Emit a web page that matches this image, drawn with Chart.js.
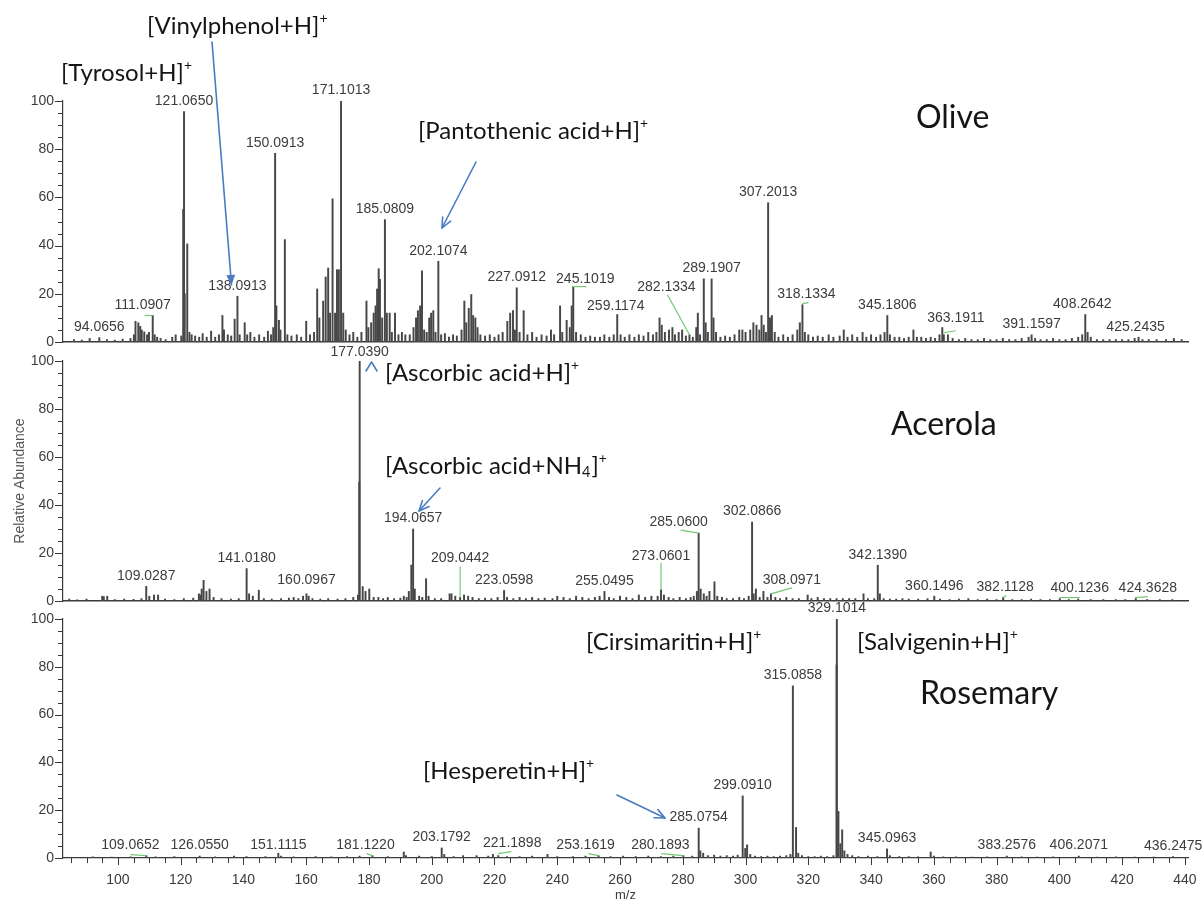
<!DOCTYPE html>
<html>
<head>
<meta charset="utf-8">
<script src="https://cdn.jsdelivr.net/npm/chart.js@4.4.1/dist/chart.umd.min.js"></script>
<style>
  html, body { margin: 0; padding: 0; background: #ffffff; }
  #wrap { position: relative; width: 1203px; height: 902px; overflow: hidden; }
  #wrap canvas { position: absolute; left: 0; top: 0; }
</style>
</head>
<body>
<div id="wrap">
  <canvas id="olive" width="1203" height="902"></canvas>
  <canvas id="acerola" width="1203" height="902"></canvas>
  <canvas id="rosemary" width="1203" height="902"></canvas>
</div>
<script>
// ---------- shared axes ----------
const mzMin = 82.5;
const mzMax = 441;
const xTickValues = [100, 120, 140, 160, 180, 200, 220, 240, 260, 280, 300, 320, 340, 360, 380, 400, 420, 440];
const yTickValues = [0, 20, 40, 60, 80, 100];

// ---------- Olive spectrum (m/z, relative abundance %) ----------
const oliveMz = [
  86.0, 88.5, 91.0, 94.0656, 96.5, 99.0, 101.5, 104.0,
  105.1, 105.6, 106.5, 107.1, 107.6, 108.4, 109.3, 109.9, 111.0907, 111.7, 112.5, 113.6, 115.2, 117.3, 118.4,
  120.2, 120.8, 121.065, 121.3, 122.1, 122.8, 123.5, 124.6, 125.9, 127.0, 128.3, 129.7, 131.0, 132.2, 133.3, 133.8,
  135.0, 136.1, 137.2, 138.0913, 138.8, 140.4, 141.2, 142.2, 143.5, 145.0, 146.6, 147.8, 148.8, 149.5, 150.0913,
  150.5, 151.3, 151.8, 153.2, 154.0, 155.3, 157.0, 158.4, 160.0, 161.2, 162.5, 163.5, 164.2, 165.4, 166.2, 167.0,
  167.6, 168.4, 169.2, 169.8, 170.4, 171.1013, 171.8, 172.6, 173.8, 175.0, 176.3, 177.6, 179.2, 179.8, 180.7,
  181.5, 182.1, 182.6, 183.1, 183.5, 184.2, 185.0809, 185.7, 186.6, 187.3, 188.3, 189.4, 190.5, 191.6, 193.0,
  194.2, 195.0, 195.6, 196.3, 196.9, 197.6, 198.4, 199.2, 199.8, 200.5, 201.2, 202.1074, 203.0, 204.2, 205.5,
  206.8, 208.0, 209.5, 210.4, 211.0, 211.8, 212.6, 213.2, 213.9, 214.6, 215.5, 217.0, 218.5, 220.0, 221.3, 222.6,
  224.1, 225.0, 225.9, 226.5, 227.0912, 228.0, 229.3, 230.5, 232.0, 233.4, 235.0, 236.6, 238.0, 239.0, 240.9,
  241.6, 243.0, 244.0, 244.6, 245.1019, 246.0, 247.5, 249.0, 250.5, 252.0, 253.6, 255.0, 256.6, 258.0, 259.1174,
  260.2, 261.5, 263.0, 264.6, 266.0, 267.5, 269.0, 270.5, 271.6, 272.6, 273.3, 274.3, 275.6, 276.7, 277.5, 278.7,
  279.8, 281.0, 282.1334, 283.2, 284.3, 284.8, 285.5, 286.7, 287.3, 288.0, 289.1907, 289.8, 290.6, 292.0, 293.5,
  295.0, 296.5, 298.0, 299.0, 300.0, 301.5, 302.5, 303.5, 304.4, 305.1, 305.8, 306.5, 307.2013, 307.8, 308.4,
  309.3, 310.5, 312.0, 313.5, 315.0, 316.5, 317.3, 318.1334, 318.9, 320.0, 321.5, 323.0, 324.6, 326.5, 328.0,
  330.0, 331.3, 332.5, 334.0, 335.6, 337.3, 338.5, 340.0, 341.6, 343.0, 344.3, 345.1806, 346.0, 347.5, 349.0,
  350.5, 352.0, 353.5, 354.6, 356.0, 357.5, 359.0, 360.4, 361.8, 362.7, 363.1911, 364.5, 366.0, 368.0, 370.0,
  372.0, 374.0, 376.0, 378.0, 380.0, 382.0, 384.0, 386.0, 388.0, 390.2, 391.1597, 392.3, 394.0, 396.0, 398.0,
  400.0, 402.0, 404.0, 406.0, 407.3, 408.2642, 409.0, 410.0, 412.0, 414.0, 416.0, 418.0, 420.0, 422.0, 424.0,
  425.2435, 426.5, 428.5, 431.0, 434.0, 436.5, 439.0
];
const oliveAbundance = [
  1.0, 0.8, 1.5, 1.8, 1.0, 0.8, 1.2, 1.5,
  3, 8.6, 8, 6.5, 5, 4.2, 3, 4, 11, 3, 2, 1.5, 1, 2, 3,
  2.5, 55, 95.6, 20, 40.7, 4, 3, 2.5, 2, 3.5, 2, 4.5, 2, 3, 11, 5,
  3, 2.5, 9.5, 19, 3, 8, 3, 4, 2, 3, 2, 4.5, 3, 6, 78.3,
  15, 9, 5, 42.5, 3, 2.5, 3, 2, 8.6, 3, 4, 22, 10, 17, 27, 30.7,
  12, 59.4, 12, 30, 30, 100, 12, 5, 3, 4, 2, 4, 17, 6, 8,
  12, 15, 22, 30.4, 26, 10, 50.8, 12, 12, 4, 12, 3, 4, 3, 3,
  6, 10, 13, 15, 29.5, 5, 4, 10, 12, 13, 4, 33.5, 3, 3.5, 2,
  3, 2.5, 5, 17, 8, 14, 19.7, 11, 10, 6, 3, 2.5, 3, 2, 3, 4,
  8.6, 12, 13, 5, 22.5, 4, 13, 3, 4, 2, 3, 2.5, 5, 3, 15,
  4, 9, 6, 15, 23, 4, 3, 2, 2.5, 2, 2, 3, 2, 3, 11.4,
  3, 2, 3, 2, 3, 2.5, 4, 3, 4, 10, 7, 4, 5, 6, 3, 4,
  5, 2.5, 3, 2, 6, 12, 3, 26.2, 8, 4, 26.2, 10, 4, 2, 2.5,
  2, 3, 5, 5, 4, 5, 8, 7, 5, 11, 7, 4, 57.8, 10, 11,
  4, 2, 3, 2, 3, 5, 8, 15.5, 4, 3, 2, 2.5, 2, 3, 2,
  2.5, 5, 2, 3, 2, 4, 2, 3, 2, 3, 4, 11, 3, 2, 2,
  1.5, 2, 5, 2, 2, 1.5, 2, 1.5, 3, 6, 3, 3, 1.5, 1, 1.5,
  1, 1, 1.5, 1, 1, 1.5, 1, 1, 1.5, 2, 3, 1.5, 1, 1, 1.5,
  1, 1, 1.5, 2, 3, 11.4, 4, 2, 1, 1, 1, 1, 1, 1, 1.5,
  2, 1, 1, 1, 1, 1.5, 1
];
const oliveTagged = ['94.0656', '111.0907', '121.0650', '138.0913', '150.0913', '171.1013', '185.0809', '202.1074',
  '227.0912', '245.1019', '259.1174', '282.1334', '289.1907', '307.2013', '318.1334', '345.1806', '363.1911',
  '391.1597', '408.2642', '425.2435'];

// ---------- Acerola spectrum ----------
const acerolaMz = [
  84.5, 87.0, 90.0, 95.0, 95.5, 96.6, 99.0, 102.0, 105.0, 107.5, 109.0287, 110.0, 111.5, 112.8, 115.0, 118.0,
  121.0, 124.0, 125.8, 126.3, 126.7, 127.3, 128.2, 129.2, 130.5, 133.0, 136.0, 138.5, 141.018, 141.8, 143.0,
  144.9, 146.5, 149.0, 152.0, 154.5, 156.0, 157.5, 159.0, 160.0967, 160.8, 162.0, 164.5, 167.0, 170.0, 172.5,
  175.0, 176.5, 176.9, 177.039, 178.0, 178.9, 180.1, 181.5, 183.0, 184.5, 186.0, 188.0, 190.0, 191.1, 192.0,
  192.7, 193.5, 194.0657, 194.6, 196.0, 197.0, 198.2, 199.0, 201.0, 203.0, 205.7, 206.3, 207.5, 209.0442, 210.3,
  211.6, 213.0, 215.0, 217.0, 219.0, 221.0, 223.0598, 224.0, 226.0, 228.0, 230.0, 232.0, 234.0, 236.0, 238.5,
  240.0, 242.0, 244.0, 246.0, 248.0, 250.0, 252.0, 253.5, 255.0495, 256.5, 258.0, 260.0, 262.0, 264.0, 266.0,
  268.0, 270.0, 272.0, 273.0601, 274.0, 275.5, 277.0, 279.0, 281.0, 282.5, 283.5, 284.5, 285.06, 285.7, 286.7,
  287.6, 288.5, 290.1, 291.0, 292.5, 294.0, 296.0, 298.0, 299.5, 301.0, 302.0866, 302.6, 303.3, 304.5, 305.7,
  307.0, 308.0971, 309.5, 311.0, 313.0, 315.0, 317.0, 319.8, 321.0, 323.0, 325.0, 327.0, 329.0, 331.0, 333.0,
  335.0, 337.6, 339.0, 341.0, 342.139, 342.8, 344.0, 346.0, 348.0, 350.0, 352.0, 355.0, 358.0, 360.1496, 362.0,
  365.0, 368.0, 371.0, 374.0, 377.0, 380.0, 382.1128, 385.0, 388.0, 391.0, 394.0, 397.0, 400.1236, 403.0,
  406.0, 410.0, 414.0, 418.0, 421.0, 424.3628, 428.0, 432.0, 436.0
];
const acerolaAbundance = [
  0.8, 0.5, 0.8, 2, 1.8, 2, 0.6, 0.8, 0.7, 1, 6.1, 2, 2.5, 2.5, 0.8, 0.6,
  1, 1.2, 3, 2.5, 5, 8.6, 4, 5, 1.5, 1, 0.8, 1, 13.5, 3, 2,
  4.5, 1, 0.8, 1, 1.2, 1.5, 1, 2, 3, 2, 1, 0.8, 1, 0.8, 1,
  1.5, 2.5, 49.6, 100, 6, 4, 5, 1.5, 1.5, 1, 1.5, 1, 1.2, 2, 1.5,
  4, 15, 30, 5, 2, 1.5, 9.3, 2, 1, 1, 3, 3, 2, 1.5, 2.5,
  2, 1.5, 1, 1.2, 1, 1.5, 4.4, 1.5, 1, 1.5, 1, 1.5, 1, 1.2, 1,
  2, 1.5, 1, 2, 1.5, 1, 1.5, 2, 4, 1.5, 1, 2, 1.5, 1, 2.5,
  1.5, 2, 2, 4.7, 2.5, 1.5, 1, 1.5, 1, 1.5, 2, 4, 28.3, 5, 3,
  2, 4, 8, 2, 1.5, 1, 1, 1.5, 1, 2, 32.9, 3, 5, 1.5, 4,
  1.5, 3, 1.5, 1, 1.5, 1, 1, 2.5, 1, 1.5, 1, 1, 1, 1, 1,
  1, 3, 1, 1, 14.9, 3, 1, 0.8, 0.8, 1, 0.8, 0.8, 1, 2, 0.8,
  0.6, 0.8, 1, 0.6, 0.8, 0.6, 1.5, 0.6, 0.6, 0.8, 0.6, 0.6, 1, 0.6,
  0.8, 0.6, 0.6, 0.6, 0.6, 1, 0.6, 0.6, 0.6
];
const acerolaTagged = ['109.0287', '141.0180', '160.0967', '177.0390', '194.0657', '209.0442', '223.0598', '255.0495',
  '273.0601', '285.0600', '302.0866', '308.0971', '342.1390', '360.1496', '382.1128', '400.1236', '424.3628'];

// ---------- Rosemary spectrum ----------
const rosemaryMz = [
  92.0, 98.0, 104.0, 109.0652, 112.0, 118.0, 126.055, 131.0, 137.0, 141.0, 147.0, 151.1115, 152.0, 156.0, 163.0,
  168.0, 173.0, 177.0, 181.122, 186.0, 191.1, 191.8, 196.0, 200.0, 203.1792, 204.0, 207.0, 210.0, 214.3, 218.0,
  219.5, 221.1898, 224.0, 228.0, 232.0, 236.9, 240.0, 245.0, 249.0, 253.1619, 257.0, 261.0, 265.0, 269.0, 273.0,
  277.0, 280.1893, 283.0, 285.0754, 285.6, 286.5, 288.0, 290.0, 292.0, 294.0, 296.0, 297.5, 299.091, 299.9, 300.5,
  301.5, 303.0, 305.0, 307.0, 309.0, 311.0, 313.0, 314.3, 315.0858, 316.1, 316.8, 318.0, 320.0, 322.0, 324.0,
  326.0, 328.0, 329.0, 329.1014, 329.6, 330.2, 330.8, 331.5, 332.5, 334.0, 336.0, 339.0, 342.0, 345.0963, 346.0,
  349.0, 352.0, 355.0, 359.0, 360.0, 363.0, 367.0, 372.0, 377.0, 383.2576, 388.0, 393.0, 398.0, 406.2071, 412.0,
  418.0, 424.0, 430.0, 436.2475
];
const rosemaryAbundance = [
  0.5, 0.4, 0.5, 1, 0.5, 0.6, 0.8, 0.5, 0.8, 0.6, 0.6, 2, 0.8, 0.5, 0.6,
  0.5, 0.6, 0.8, 1, 0.6, 2.5, 1, 0.8, 0.6, 4.2, 1.5, 0.6, 1, 1, 0.8,
  1.5, 1, 0.6, 0.6, 0.8, 1.5, 0.6, 0.6, 0.8, 1, 0.6, 0.8, 0.6, 0.8, 0.6,
  0.8, 1, 0.8, 12.5, 3, 2, 1, 1.2, 0.8, 1, 0.8, 1.2, 26, 4, 5.5,
  1.5, 0.8, 0.6, 0.8, 0.6, 0.8, 1, 1.5, 72, 12.8, 2, 1, 0.6, 0.6, 0.8,
  0.6, 1, 80.8, 100, 19.5, 6, 11.8, 3, 1.5, 1, 0.6, 0.8, 0.6, 3.8, 1,
  0.6, 0.6, 0.5, 2.5, 0.8, 0.5, 0.5, 0.4, 0.5, 0.8, 0.5, 0.4, 0.5, 0.8, 0.4,
  0.5, 0.4, 0.4, 0.6
];
const rosemaryTagged = ['109.0652', '126.0550', '151.1115', '181.1220', '203.1792', '221.1898', '253.1619', '280.1893',
  '285.0754', '299.0910', '315.0858', '329.1014', '345.0963', '383.2576', '406.2071', '436.2475'];

// ---------- styling ----------
const PEAK_COLOR = '#474747';
const AXIS_COLOR = '#3a3a3a';
const NUM_COLOR = '#3c3c3c';
const LEADER_GREEN = '#74c874';
const ARROW_BLUE = '#4a7cc2';
const NUM_FONT = '"Liberation Sans", Arial, sans-serif';
const NAME_FONT = 'Lato, "Open Sans", sans-serif';
const NUM_SIZE = 14;
const NAME_SIZE = 24;
const TITLE_SIZE = 32;

// pixel nudges for peak tags that sit away from their peak
const tagShift = {
  '111.0907': [-10, 0], '245.1019': [12, 3], '259.1174': [-1.5, 2.5], '282.1334': [-23, -37], '318.1334': [4, 0],
  '363.1911': [12, -6], '408.2642': [-3, 0], '425.2435': [-3, 0],
  '160.0967': [0, -3], '177.0390': [0, 2], '209.0442': [0, -29], '273.0601': [0, -23], '285.0600': [-20, 0],
  '308.0971': [21, -3], '382.1128': [2, 0], '400.1236': [20, 0], '424.3628': [12, 0],
  '109.0652': [-16, 0], '151.1115': [0, 2], '181.1220': [-7, 0], '221.1898': [14, -2], '253.1619': [-13, 0],
  '280.1893': [-23, 0]
};
// green leader segments, relative to the top of the tagged peak
const tagLeader = {
  '111.0907': [-8, 0, 0, 0], '245.1019': [-1, 0, 13, 0], '282.1334': [-22, -40, 0, 0], '318.1334': [0, -1, 6, -2],
  '363.1911': [0, -2, 12, -4],
  '209.0442': [0, -31, 0, 0], '273.0601': [0, -27, 0, 0], '285.0600': [-18, -3, 0, 0], '308.0971': [21, -6, 0, 0],
  '382.1128': [0, 0, 3, -2], '400.1236': [0, -1, 20, -1], '424.3628': [-1, -1, 12, -2],
  '109.0652': [-16, -1, 0, 0], '181.1220': [-6, -2, 0, 0], '221.1898': [0, -2, 13, -4], '253.1619': [-10, -2, 0, 0],
  '280.1893': [-22, -2, 0, 0]
};

// draws text with ^x superscripts and _x subscripts
function drawRich(ctx, markup, x, y, size, color) {
  const parts = markup.split(/(\^.|_.)/).filter(p => p.length);
  let cx = x;
  ctx.fillStyle = color;
  ctx.textBaseline = 'middle';
  ctx.textAlign = 'left';
  for (const p of parts) {
    let txt = p, fs = size, dy = 0;
    if (p[0] === '^') { txt = p.slice(1); fs = size * 0.58; dy = -size * 0.33; }
    else if (p[0] === '_') { txt = p.slice(1); fs = size * 0.6; dy = size * 0.28; }
    ctx.font = fs + 'px ' + NAME_FONT;
    ctx.fillText(txt, cx, y + dy);
    cx += ctx.measureText(txt).width + (p[0] === '^' || p[0] === '_' ? 1 : 0);
  }
}

function drawArrow(ctx, x1, y1, x2, y2, filled) {
  const a = Math.atan2(y2 - y1, x2 - x1), h = 11, w = 0.42;
  ctx.strokeStyle = ARROW_BLUE; ctx.fillStyle = ARROW_BLUE;
  ctx.lineWidth = 1.6; ctx.lineCap = 'round'; ctx.lineJoin = 'round';
  ctx.beginPath(); ctx.moveTo(x1, y1); ctx.lineTo(x2, y2); ctx.stroke();
  ctx.beginPath();
  ctx.moveTo(x2 - h * Math.cos(a - w), y2 - h * Math.sin(a - w));
  ctx.lineTo(x2, y2);
  ctx.lineTo(x2 - h * Math.cos(a + w), y2 - h * Math.sin(a + w));
  if (filled) { ctx.closePath(); ctx.fill(); } else { ctx.stroke(); }
}

function makePanel(id, mz, abundance, tagged, frame, notes) {
  const annotate = {
    id: 'annotate_' + id,
    afterDraw(chart) {
      const ctx = chart.ctx, xs = chart.scales.x, ys = chart.scales.y, area = chart.chartArea;
      ctx.save();
      // minor and major tick marks
      ctx.strokeStyle = AXIS_COLOR; ctx.lineWidth = 1;
      for (let v = 0; v <= 100; v += 5) {
        const py = Math.round(ys.getPixelForValue(v)) + 0.5;
        const len = v % 20 === 0 ? 8 : 5;
        ctx.beginPath(); ctx.moveTo(area.left - len, py); ctx.lineTo(area.left, py); ctx.stroke();
      }
      if (frame.xLabels) {
        for (let v = 85; v <= 440; v += 5) {
          const px = Math.round(xs.getPixelForValue(v)) + 0.5;
          const len = v % 20 === 0 ? 7 : 5;
          ctx.beginPath(); ctx.moveTo(px, area.bottom); ctx.lineTo(px, area.bottom + len); ctx.stroke();
        }
        ctx.fillStyle = NUM_COLOR; ctx.font = '13px ' + NUM_FONT;
        ctx.textAlign = 'center'; ctx.textBaseline = 'middle';
        ctx.fillText('m/z', (area.left + area.right) / 2, 895);
      }
      if (frame.yTitle) {
        ctx.save();
        ctx.translate(20, (area.top + area.bottom) / 2);
        ctx.rotate(-Math.PI / 2);
        ctx.fillStyle = '#555'; ctx.font = '14px ' + NUM_FONT;
        ctx.textAlign = 'center'; ctx.textBaseline = 'middle';
        ctx.fillText('Relative Abundance', 0, 0);
        ctx.restore();
      }
      // peak tags with leaders
      ctx.font = NUM_SIZE + 'px ' + NUM_FONT;
      ctx.textAlign = 'center'; ctx.textBaseline = 'middle';
      tagged.forEach(tag => {
        const m = parseFloat(tag);
        const i = mz.indexOf(m);
        const px = xs.getPixelForValue(m), top = ys.getPixelForValue(abundance[i]);
        const lead = tagLeader[tag];
        if (lead) {
          ctx.strokeStyle = LEADER_GREEN; ctx.lineWidth = 1.2;
          ctx.beginPath(); ctx.moveTo(px + lead[0], top + lead[1]); ctx.lineTo(px + lead[2], top + lead[3]); ctx.stroke();
        }
        const sh = tagShift[tag] || [0, 0];
        ctx.fillStyle = NUM_COLOR;
        ctx.fillText(tag, px + sh[0], top - 10.5 + sh[1]);
      });
      // compound names, sample name and arrows
      notes.names.forEach(n => drawRich(ctx, n.text, n.x, n.y, NAME_SIZE, '#151515'));
      ctx.font = TITLE_SIZE + 'px ' + NAME_FONT; ctx.fillStyle = '#151515';
      ctx.textAlign = 'left'; ctx.textBaseline = 'middle';
      ctx.fillText(notes.title.text, notes.title.x, notes.title.y);
      notes.arrows.forEach(a => drawArrow(ctx, a[0], a[1], a[2], a[3], a[4]));
      (notes.chevrons || []).forEach(c => {
        ctx.strokeStyle = ARROW_BLUE; ctx.lineWidth = 1.6;
        ctx.beginPath(); ctx.moveTo(c[0] - 5.5, c[1] + 9); ctx.lineTo(c[0], c[1]); ctx.lineTo(c[0] + 5.5, c[1] + 9); ctx.stroke();
      });
      ctx.restore();
    }
  };

  return new Chart(document.getElementById(id), {
    type: 'bar',
    data: {
      datasets: [{
        data: mz.map((m, i) => ({ x: m, y: abundance[i] })),
        backgroundColor: PEAK_COLOR,
        borderWidth: 0,
        barThickness: 1.3
      }]
    },
    options: {
      responsive: false,
      animation: false,
      devicePixelRatio: 1,
      layout: { padding: { top: frame.top, bottom: frame.bottom, left: 0, right: 15 } },
      plugins: { legend: { display: false }, tooltip: { enabled: false } },
      scales: {
        x: {
          type: 'linear', min: mzMin, max: mzMax, offset: false,
          grid: { display: false, offset: false },
          border: { display: true, color: AXIS_COLOR, width: frame.xLabels ? 1.2 : 1.6 },
          afterBuildTicks: s => { s.ticks = xTickValues.map(v => ({ value: v })); },
          afterFit: s => { s.height = frame.xLabels ? 40 : 0; },
          ticks: {
            display: !!frame.xLabels, padding: 6, maxRotation: 0, autoSkip: false,
            color: NUM_COLOR, font: { family: NUM_FONT, size: 14 }
          }
        },
        y: {
          type: 'linear', min: 0, max: 100,
          grid: { display: false },
          border: { display: true, color: AXIS_COLOR, width: 1.2 },
          afterBuildTicks: s => { s.ticks = yTickValues.map(v => ({ value: v })); },
          afterFit: s => { s.width = 63; },
          ticks: { padding: 1, color: NUM_COLOR, font: { family: NUM_FONT, size: 14 } }
        }
      }
    },
    plugins: [annotate]
  });
}

makePanel('olive', oliveMz, oliveAbundance, oliveTagged,
  { top: 101, bottom: 560 },
  {
    names: [
      { text: '[Vinylphenol+H]^+', x: 147, y: 26 },
      { text: '[Tyrosol+H]^+', x: 61, y: 73 },
      { text: '[Pantothenic acid+H]^+', x: 418, y: 131 }
    ],
    title: { text: 'Olive', x: 916, y: 118 },
    arrows: [[212, 42, 231.5, 285, true], [476, 162, 442, 228, false]]
  });

makePanel('acerola', acerolaMz, acerolaAbundance, acerolaTagged,
  { top: 361, bottom: 301, yTitle: true },
  {
    names: [
      { text: '[Ascorbic acid+H]^+', x: 385, y: 373 },
      { text: '[Ascorbic acid+NH_4]^+', x: 385, y: 466 }
    ],
    title: { text: 'Acerola', x: 891, y: 425 },
    arrows: [[440, 488, 419, 511, false]],
    chevrons: [[371.5, 362]]
  });

makePanel('rosemary', rosemaryMz, rosemaryAbundance, rosemaryTagged,
  { top: 619, bottom: 4, xLabels: true },
  {
    names: [
      { text: '[Cirsimaritin+H]^+', x: 586, y: 642 },
      { text: '[Salvigenin+H]^+', x: 857, y: 642 },
      { text: '[Hesperetin+H]^+', x: 423, y: 771 }
    ],
    title: { text: 'Rosemary', x: 920, y: 694 },
    arrows: [[617, 795, 665, 818, false]]
  });
</script>
</body>
</html>
